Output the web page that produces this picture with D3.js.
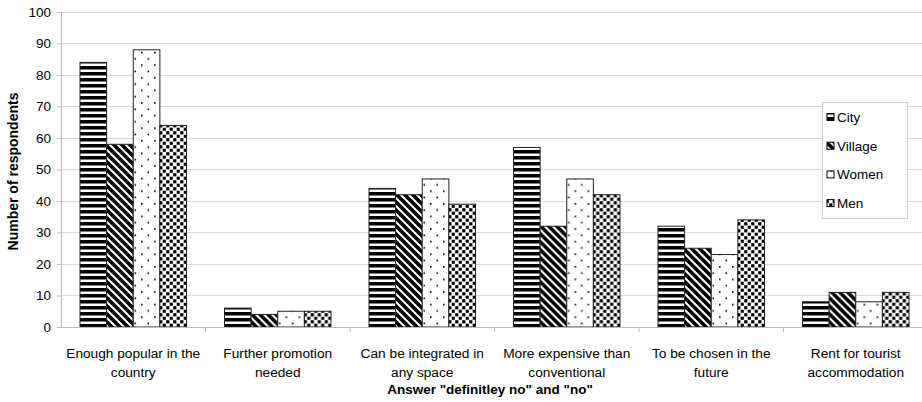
<!DOCTYPE html>
<html>
<head>
<meta charset="utf-8">
<script src="https://cdn.jsdelivr.net/npm/d3@7"></script>
<style>
  body { margin: 0; background: #fff; }
  text { font-family: "Liberation Sans", Arial, sans-serif; fill: #000; }
</style>
</head>
<body>
<svg id="chart" width="922" height="402"></svg>
<script>
const categories = [
  ["Enough popular in the", "country"],
  ["Further promotion", "needed"],
  ["Can be integrated in", "any space"],
  ["More expensive than", "conventional"],
  ["To be chosen in the", "future"],
  ["Rent for tourist", "accommodation"]
];
const seriesNames = ["City", "Village", "Women", "Men"];
const city = [84, 6, 44, 57, 32, 8];
const village = [58, 4, 42, 32, 25, 11];
const women = [88, 5, 47, 47, 23, 8];
const men = [64, 5, 39, 42, 34, 11];
const yTicks = [0, 10, 20, 30, 40, 50, 60, 70, 80, 90, 100];

const seriesValues = [city, village, women, men];
const margin = { left: 61, top: 12, right: -6, bottom: 75 };
const chartSize = { width: 922, height: 402 };
const width = chartSize.width - margin.left - margin.right;
const height = chartSize.height - margin.top - margin.bottom;

const svg = d3.select("#chart");
const defs = svg.append("defs");

// fill patterns
const pCity = defs.append("pattern").attr("id", "p0")
  .attr("patternUnits", "userSpaceOnUse").attr("width", 6).attr("height", 6);
pCity.append("rect").attr("width", 6).attr("height", 6).attr("fill", "#fff");
pCity.append("rect").attr("width", 6).attr("height", 3.5).attr("fill", "#000");

const pVillage = defs.append("pattern").attr("id", "p1")
  .attr("patternUnits", "userSpaceOnUse").attr("width", 8).attr("height", 8);
pVillage.append("rect").attr("width", 8).attr("height", 8).attr("fill", "#fff");
pVillage.append("path").attr("d", "M-2,-2 L10,10 M-2,6 L2,10 M6,-2 L10,2")
  .attr("stroke", "#000").attr("stroke-width", 3.6);

const pWomen = defs.append("pattern").attr("id", "p2")
  .attr("patternUnits", "userSpaceOnUse").attr("width", 13).attr("height", 12.6);
pWomen.append("rect").attr("width", 13).attr("height", 12.6).attr("fill", "#fff");
pWomen.append("rect").attr("x", 2).attr("y", 2).attr("width", 1.6).attr("height", 1.6).attr("fill", "#000");
pWomen.append("rect").attr("x", 8.5).attr("y", 8.3).attr("width", 1.6).attr("height", 1.6).attr("fill", "#000");

const pMen = defs.append("pattern").attr("id", "p3")
  .attr("patternUnits", "userSpaceOnUse").attr("width", 7).attr("height", 7);
pMen.append("rect").attr("width", 7).attr("height", 7).attr("fill", "#fff");
pMen.append("rect").attr("x", 0.2).attr("y", 0.2).attr("width", 3.2).attr("height", 3.2).attr("fill", "#000");
pMen.append("rect").attr("x", 3.7).attr("y", 3.7).attr("width", 3.1).attr("height", 3.1).attr("fill", "#000");

const g = svg.append("g").attr("transform", `translate(${margin.left},${margin.top})`);

const y = d3.scaleLinear().domain([0, 100]).range([height, 0]);
const x0 = d3.scaleBand().domain(d3.range(categories.length)).range([0, width]);
const x1 = d3.scaleBand().domain(d3.range(seriesNames.length))
  .range([19, x0.bandwidth() - 19]);

// grid
g.append("g").selectAll("line").data(yTicks.slice(1)).join("line")
  .attr("x1", 0).attr("x2", width)
  .attr("y1", d => y(d)).attr("y2", d => y(d))
  .attr("stroke", "#d9d9d9").attr("stroke-width", 1).attr("shape-rendering", "crispEdges");

// y axis
const yAxis = g.append("g")
  .call(d3.axisLeft(y).tickValues(yTicks).tickSize(4).tickPadding(6));
yAxis.select(".domain").attr("stroke", "#bbb");
yAxis.selectAll(".tick line").attr("stroke", "#bbb");
yAxis.selectAll(".tick text")
  .attr("font-size", 13.5).attr("font-family", "Liberation Sans, Arial, sans-serif").attr("fill", "#000");

// bars
const groups = g.append("g").selectAll("g").data(categories).join("g")
  .attr("transform", (d, i) => `translate(${x0(i)},0)`);
groups.selectAll("rect")
  .data((d, i) => seriesValues.map((s, k) => ({ k, v: s[i] })))
  .join("rect")
  .attr("x", d => x1(d.k))
  .attr("y", d => y(d.v))
  .attr("width", x1.bandwidth())
  .attr("height", d => y(0) - y(d.v))
  .attr("fill", d => `url(#p${d.k})`)
  .attr("stroke", "#222").attr("stroke-width", 1);

// x axis
const xAxis = g.append("g").attr("transform", `translate(0,${height})`);
xAxis.append("line").attr("x1", 0).attr("x2", width).attr("y1", 0).attr("y2", 0)
  .attr("stroke", "#bbb").attr("shape-rendering", "crispEdges");
xAxis.selectAll(".tk").data(d3.range(1, categories.length)).join("line")
  .attr("class", "tk")
  .attr("x1", i => x0(i)).attr("x2", i => x0(i))
  .attr("y1", 0).attr("y2", 5).attr("stroke", "#bbb");
const labels = xAxis.selectAll(".lbl").data(categories).join("text")
  .attr("class", "lbl")
  .attr("text-anchor", "middle")
  .attr("font-size", 13.7);
labels.selectAll("tspan").data((d, i) => d.map(t => ({ t, i }))).join("tspan")
  .attr("x", d => x0(d.i) + x0.bandwidth() / 2)
  .attr("y", (d, j) => 31 + j * 18.5)
  .text(d => d.t);

// axis titles
g.append("text")
  .attr("x", 429).attr("y", height + 67)
  .attr("text-anchor", "middle").attr("font-size", 13.5).attr("font-weight", "bold")
  .text('Answer "definitley no" and "no"');

g.append("text")
  .attr("transform", `translate(${-43},${height / 2 + 2}) rotate(-90)`)
  .attr("text-anchor", "middle").attr("font-size", 14).attr("font-weight", "bold")
  .text("Number of respondents");

// legend
const legend = svg.append("g").attr("transform", "translate(822,102)");
legend.append("rect").attr("width", 85).attr("height", 116)
  .attr("fill", "#fff").attr("stroke", "#ccc").attr("shape-rendering", "crispEdges");
const items = legend.selectAll(".item").data(seriesNames).join("g")
  .attr("class", "item")
  .attr("transform", (d, i) => `translate(0,${15 + i * 28.7})`);
items.append("rect").attr("x", 5).attr("y", -3.5).attr("width", 7).attr("height", 7)
  .attr("fill", (d, i) => `url(#p${i})`).attr("stroke", "#000");
items.append("text").attr("x", 15).attr("y", 5).attr("font-size", 13.5).text(d => d);
</script>
</body>
</html>
